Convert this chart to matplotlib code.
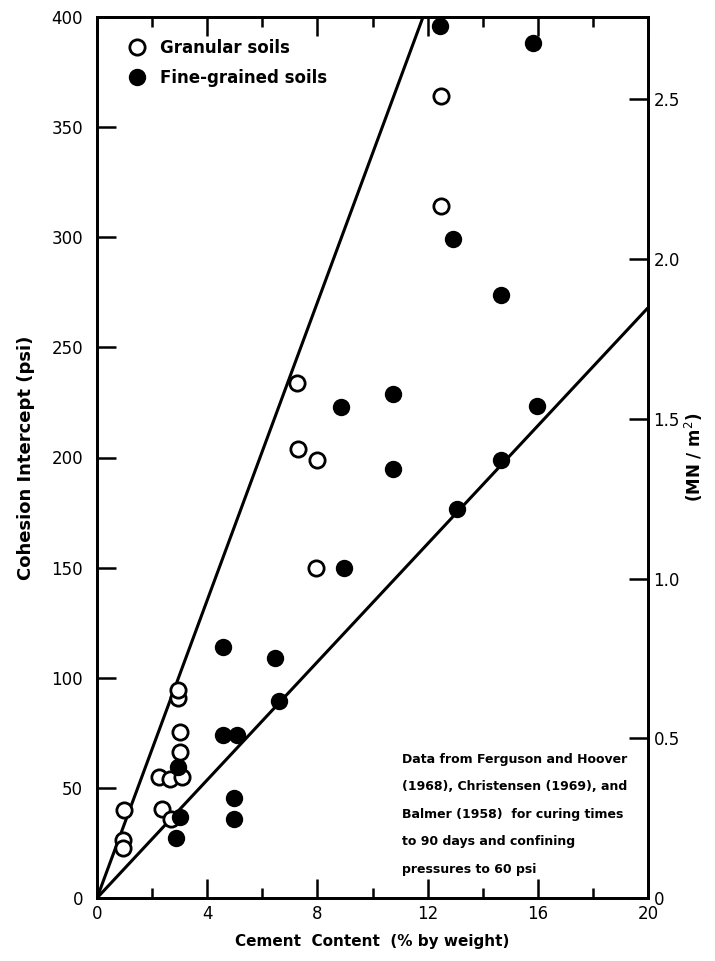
import numpy as np
import matplotlib.pyplot as plt

# granular soils (open circles)
gran_x = [0.98, 0.96, 0.96, 2.26, 2.65, 3.07, 3.0, 3.01, 2.95, 2.95, 2.35, 2.67,
          7.25, 7.31, 7.97, 7.95, 12.49, 12.49]
gran_y = [40.0, 26.3, 22.7, 54.9, 54.0, 55.1, 66.4, 75.5, 90.8, 94.4, 40.4, 35.9,
          234, 204, 199, 150, 364, 314]

# fine-grained soils (filled circles)
fine_x = [2.95, 3.01, 2.87, 4.58, 5.07, 4.97, 4.97, 6.62, 6.46, 4.58, 8.85, 8.97,
          10.76, 10.76, 12.45, 12.91, 14.65, 15.84, 15.98, 14.65, 13.08]
fine_y = [59.6, 36.9, 27.2, 74, 74, 45.4, 35.9, 89.6, 109, 114, 223, 150,
          228.7, 194.6, 396, 299, 274, 388, 223.4, 198.9, 176.5]

# bounding lines through origin (psi per % cement)
line_slopes = [33.8, 13.4]

mn_ticks = [0, 0.5, 1.0, 1.5, 2.0, 2.5]
mn_labels = ['0', '0.5', '1.0', '1.5', '2.0', '2.5']
PSI_TO_MN = 0.0068948

note = ("Data from Ferguson and Hoover\n(1968), Christensen (1969), and\n"
        "Balmer (1958)  for curing times\nto 90 days and confining\npressures to 60 psi")

plt.rcParams['font.family'] = ['DejaVu Sans']

fig = plt.figure(figsize=(7.15, 9.61), dpi=100)
ax = fig.add_axes([97/715, 1 - 898/961, 551/715, 881/961])

xx = np.array([0, 20])
for s in line_slopes:
    ax.plot(xx, s * xx, color='black', lw=2.2, solid_capstyle='butt')

ax.plot(gran_x, gran_y, 'o', ms=11, mfc='white', mec='black', mew=2.0,
        label='Granular soils', zorder=3)
ax.plot(fine_x, fine_y, 'o', ms=11, mfc='black', mec='black', mew=1.5,
        label='Fine-grained soils', zorder=3)

ax.set_xlim(0, 20)
ax.set_ylim(0, 400)
ax.set_xticks([0, 4, 8, 12, 16, 20])
ax.set_xticks([2, 6, 10, 14, 18], minor=True)
ax.set_yticks(np.arange(0, 401, 50))
ax.tick_params(axis='both', which='major', direction='in', length=14, width=1.8,
               labelsize=12, top=True)
ax.tick_params(axis='both', which='minor', direction='in', length=7, width=1.8,
               top=True)
ax.tick_params(axis='y', which='major', pad=10)
ax.tick_params(axis='x', which='major', pad=5)
for sp in ax.spines.values():
    sp.set_linewidth(2.0)

ax.set_xlabel('Cement  Content  (% by weight)', fontsize=11, fontweight='bold', labelpad=8)
ax.set_ylabel('Cohesion Intercept (psi)', fontsize=13, fontweight='bold', labelpad=12)

# right axis in MN/m^2
ax2 = ax.twinx()
ax2.set_ylim(0, 400 * PSI_TO_MN)
ax2.set_yticks(mn_ticks)
ax2.set_yticklabels(mn_labels)
ax2.tick_params(direction='in', length=14, width=1.8, labelsize=12, pad=4)
for sp in ax2.spines.values():
    sp.set_linewidth(2.0)
ax2.set_ylabel('(MN / m$^2$)', fontsize=12, fontweight='bold', labelpad=2)

ax.legend(loc='upper left', bbox_to_anchor=(0.015, 1.0), frameon=False,
          handletextpad=0.8, labelspacing=0.75, borderaxespad=0.9, handlelength=1.2,
          prop={'weight': 'bold', 'size': 12})

ax.text(0.553, 0.095, note, transform=ax.transAxes, fontsize=9, fontweight='bold',
        ha='left', va='center', linespacing=2.45)

fig.savefig('out.png', dpi=100)
